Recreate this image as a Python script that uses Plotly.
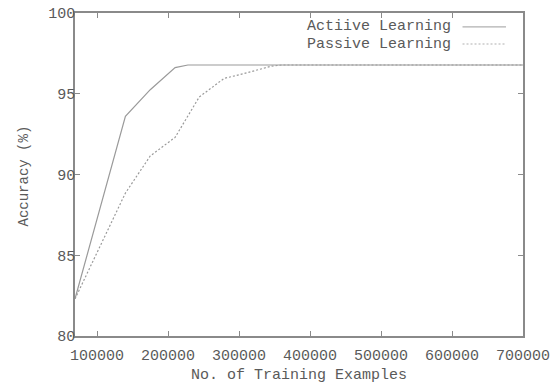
import plotly.graph_objects as go

# Data
active_x = [69000, 140000, 175000, 210000, 228000, 700000]
active_y = [82.3, 93.6, 95.25, 96.62, 96.78, 96.78]

passive_x = [69000, 140000, 175000, 210000, 244000, 279000, 307000, 345000, 360000, 700000]
passive_y = [82.3, 88.85, 91.15, 92.3, 94.8, 95.95, 96.25, 96.7, 96.78, 96.78]

x_ticks = [100000, 200000, 300000, 400000, 500000, 600000, 700000]
y_ticks = [80, 85, 90, 95, 100]

series_names = ["Actiive Learning", "Passive Learning"]
x_title = "No. of Training Examples"
y_title = "Accuracy (%)"

LINE = "#9a9a9a"
AXIS = "#8a8a8a"
TEXT = "#5a5a5a"
FONT = "Liberation Mono"

fig = go.Figure()
fig.add_trace(go.Scatter(x=active_x, y=active_y, mode="lines", name=series_names[0],
                         line=dict(color=LINE, width=1.2), showlegend=False))
fig.add_trace(go.Scatter(x=passive_x, y=passive_y, mode="lines", name=series_names[1],
                         line=dict(color=LINE, width=1.2, dash="2px,2px"), showlegend=False))

axis_common = dict(showline=True, mirror="ticks", linecolor=AXIS, linewidth=1.5,
                   ticks="inside", ticklen=5, tickcolor=AXIS, tickwidth=1.2,
                   showgrid=False, zeroline=False, automargin=False,
                   ticklabeloverflow="allow",
                   tickfont=dict(family=FONT, size=15, color=TEXT))

fig.update_xaxes(range=[69000, 700000], tickvals=x_ticks,
                 ticktext=[str(v) for v in x_ticks], ticklabelstandoff=4,
                 **axis_common)
fig.update_yaxes(range=[80, 100], tickvals=y_ticks,
                 ticktext=[str(v) for v in y_ticks], ticklabelstandoff=-5,
                 **axis_common)

# axis titles
fig.add_annotation(x=0.5, y=0, xref="paper", yref="paper", yshift=-39,
                   text=x_title, showarrow=False, xanchor="center", yanchor="middle",
                   font=dict(family=FONT, size=15, color=TEXT))
fig.add_annotation(x=0, y=0.5, xref="paper", yref="paper", xshift=-52, yshift=-2,
                   text=y_title, textangle=-90, showarrow=False,
                   xanchor="center", yanchor="middle",
                   font=dict(family=FONT, size=14, color=TEXT))

# gnuplot-style legend: text right-aligned, sample line to the right
legend_rows = [(series_names[0], "solid", 0.957), (series_names[1], "2px,2px", 0.904)]
for name, dash, yp in legend_rows:
    fig.add_annotation(x=0.844, y=yp, xref="paper", yref="paper", text=name,
                       showarrow=False, xanchor="right", yanchor="middle",
                       font=dict(family=FONT, size=15, color=TEXT))
    fig.add_shape(type="line", xref="paper", yref="paper", x0=0.865, x1=0.962,
                  y0=yp, y1=yp, line=dict(color="#b0b0b0", width=1.2, dash=dash))

fig.update_layout(width=559, height=385, margin=dict(l=75, r=36, t=13, b=49),
                  paper_bgcolor="white", plot_bgcolor="white",
                  font=dict(family=FONT, color=TEXT))

# remove the default 8px page margin so the figure fills the window exactly
fig.write_html("out.html", config={"displayModeBar": False},
               post_script="document.body.style.margin='0';document.body.style.overflow='hidden';")
